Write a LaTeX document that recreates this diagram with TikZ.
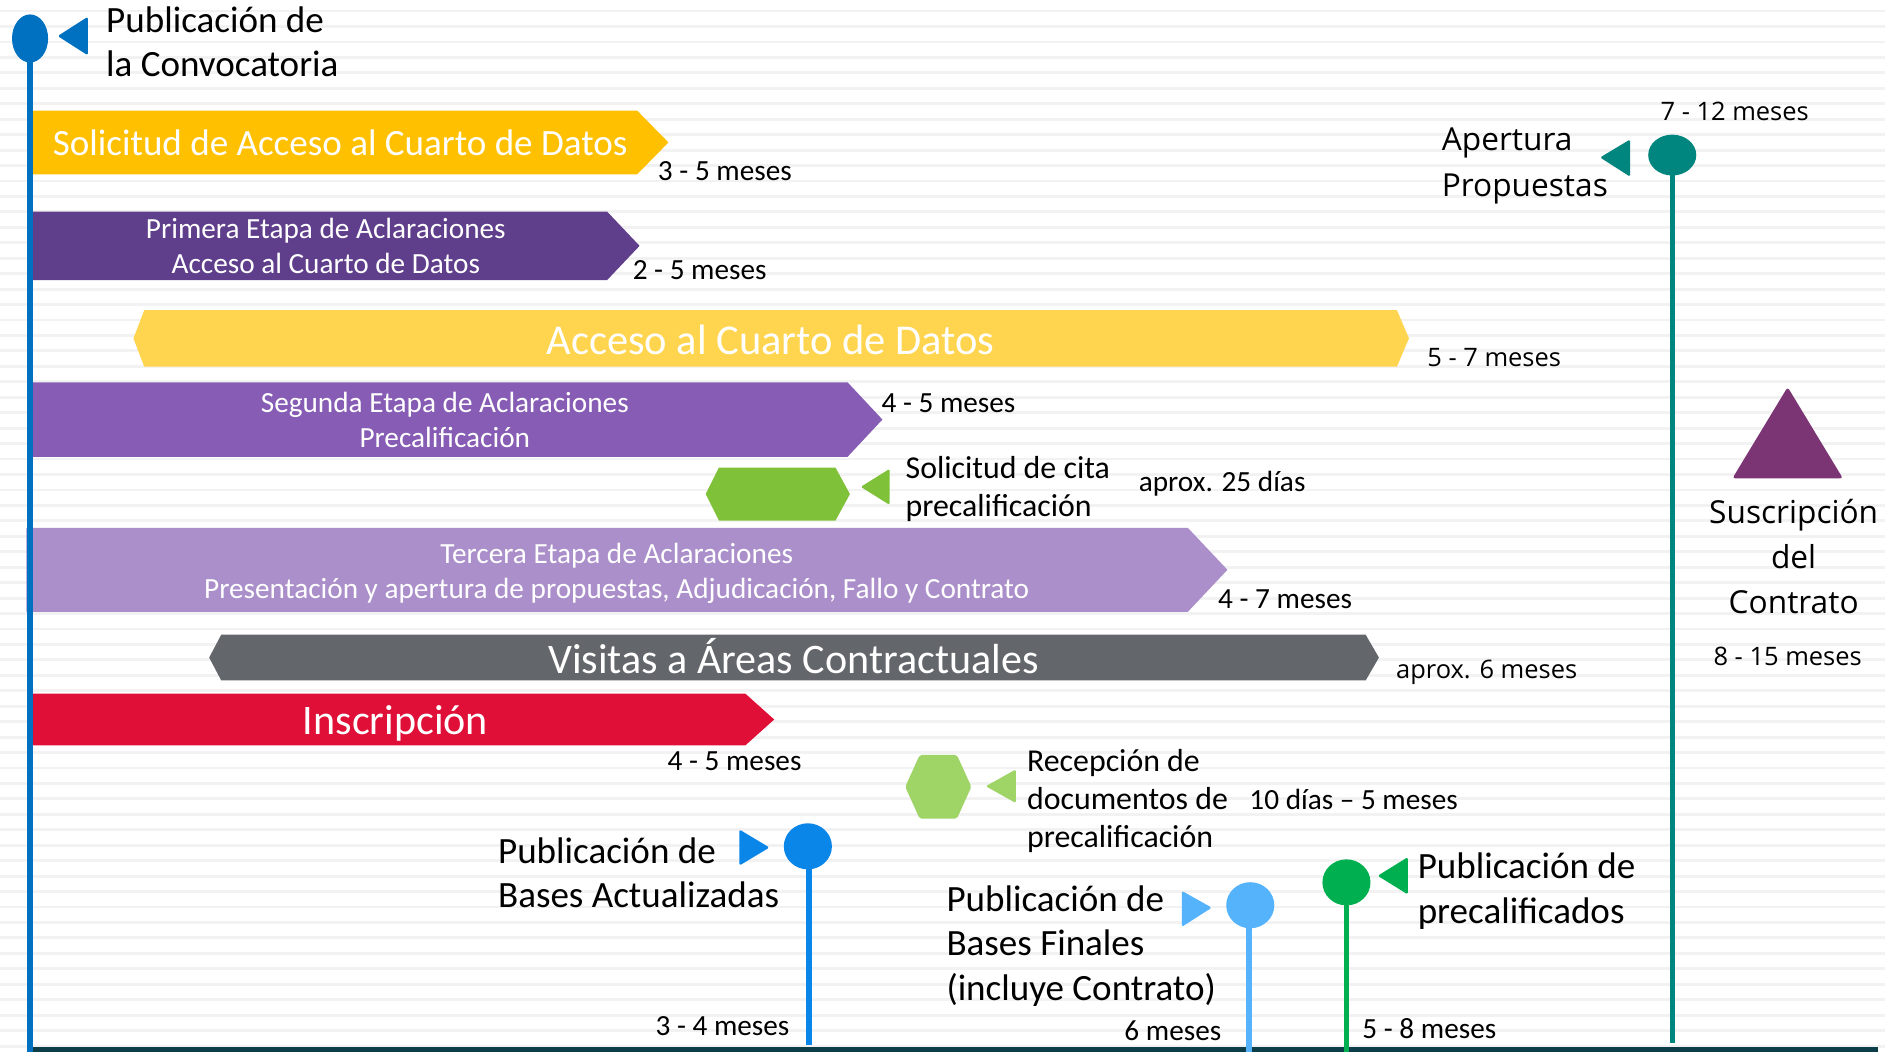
\documentclass[tikz,border=0pt]{standalone}
\usepackage{fontspec}
\setmainfont{Carlito}
\newfontfamily\osans{Open Sans}
\usetikzlibrary{shapes.geometric}
\definecolor{cBlue}{HTML}{0070C0}
\definecolor{cBarA}{HTML}{FFC000}
\definecolor{cBarB}{HTML}{5F3E8B}
\definecolor{cBarC}{HTML}{FFD550}
\definecolor{cBarD}{HTML}{865CB4}
\definecolor{cHexA}{HTML}{80C13A}
\definecolor{cBarE}{HTML}{AB8FCA}
\definecolor{cBarF}{HTML}{63666A}
\definecolor{cBarG}{HTML}{E00F37}
\definecolor{cHexB}{HTML}{9FD467}
\definecolor{cPinA}{HTML}{0A85E8}
\definecolor{cPinB}{HTML}{55B3FC}
\definecolor{cPinC}{HTML}{00B050}
\definecolor{cTeal}{HTML}{00867F}
\definecolor{cTri}{HTML}{7B3575}
\definecolor{cAxis}{HTML}{0E3D4A}
\definecolor{cStripe}{HTML}{F2F2F2}
\newcommand\fsz[2]{\fontsize{#1pt}{#2pt}\selectfont}
\newcommand\sst{\rule[-0.25em]{0pt}{1em}}
\tikzset{
  txt/.style={inner sep=0pt, yshift=-1.9pt, execute at begin node=\sst, execute at end node=\sst},
  big/.style={txt, font=\fsz{18.5}{22.2}, align=left, anchor=west},
  mid/.style={txt, font=\fsz{15.9}{19.0}, align=left, anchor=west},
  dur/.style={txt, font=\fsz{14.6}{17.5}, anchor=west},
  odur/.style={txt, font=\osans\fsz{12.7}{15}, anchor=west},
  olbl/.style={txt, font=\osans\fsz{15.8}{22.5}},
  bartxt/.style={txt, text=white, align=center},
  pin/.style={ellipse, inner sep=0pt, minimum width=24pt},
  stick/.style={line width=2.6pt},
  marker/.style={rounded corners=0.8pt},
}
\begin{document}
\begin{tikzpicture}[x=0.6pt, y=-0.6pt]
\useasboundingbox (0,0) rectangle (1568,875);
\fill[white] (0,0) rectangle (1568,875);
\foreach \i in {0,...,67} \fill[cStripe] (0,{8+12.85*\i}) rectangle (1568,{10.4+12.85*\i});

% bar A
\fill[cBarA] (25,92) -- (530,92) -- (556,118.5) -- (530,145) -- (25,145) -- cycle;
\node[bartxt, font=\fsz{18.5}{22}] (barA) at (283,118.5) {Solicitud de Acceso al Cuarto de Datos};
\node[dur] (durA) at (547,141) {3 - 5 meses};
% bar B
\fill[cBarB] (25,176) -- (505,176) -- (532,204.5) -- (505,233) -- (25,233) -- cycle;
\node[bartxt, font=\fsz{14.6}{17.4}] (barB) at (271,204.5) {Primera Etapa de Aclaraciones\\Acceso al Cuarto de Datos};
\node[dur] (durB) at (526,223) {2 - 5 meses};
% bar C
\fill[cBarC] (111,281.5) -- (120,258) -- (1162,258) -- (1172,281.5) -- (1162,305) -- (120,305) -- cycle;
\node[bartxt, font=\fsz{21.2}{25}] (barC) at (641,283) {Acceso al Cuarto de Datos};
\node[odur] (durC) at (1187,296) {5 - 7 meses};
% bar D
\fill[cBarD] (25,318) -- (705,318) -- (734,349) -- (705,380) -- (25,380) -- cycle;
\node[bartxt, font=\fsz{14.6}{17.7}] (barD) at (370,349) {Segunda Etapa de Aclaraciones\\Precalificación};
\node[dur] (durD) at (733,334) {4 - 5 meses};
% hex A
\fill[cHexA] (587,411) -- (598,389) -- (695,389) -- (707,411) -- (695,433) -- (598,433) -- cycle;
\fill[cHexA, marker] (716,405) -- (740,390) -- (740,420) -- cycle;
\node[mid] (citaTxt) at (753,405) {Solicitud de cita\\precalificación};
\node[dur] (durCita) at (947,400) {aprox. 25 días};
% bar E
\fill[cBarE] (22,439) -- (988,439) -- (1021,474) -- (988,509) -- (22,509) -- cycle;
\node[bartxt, font=\fsz{14.6}{17.4}] (barE) at (513,475) {Tercera Etapa de Aclaraciones\\Presentación y apertura de propuestas, Adjudicación, Fallo y Contrato};
\node[dur] (durE) at (1013,497) {4 - 7 meses};
% bar F
\fill[cBarF] (174,547) -- (184,528) -- (1136,528) -- (1147,547) -- (1136,566) -- (184,566) -- cycle;
\node[bartxt, font=\fsz{21}{25}] (barF) at (660,547) {Visitas a Áreas Contractuales};
\node[odur] (durF) at (1161,556) {aprox. 6 meses};
% bar G
\fill[cBarG] (25,577) -- (620,577) -- (644,598.5) -- (620,620) -- (25,620) -- cycle;
\node[bartxt, font=\fsz{21}{25}] (barG) at (329,599) {Inscripción};
\node[dur] (durG) at (555,632) {4 - 5 meses};
% hex B
\fill[cHexB, rounded corners=1pt] (753,654.5) -- (765,628) -- (796,628) -- (808,654.5) -- (796,681) -- (765,681) -- cycle;
\fill[cHexB, marker] (820,654) -- (845,640) -- (845,668) -- cycle;
\node[mid] (recTxt) at (854,664.5) {Recepción de\\documentos de\\precalificación};
\node[dur] (durRec) at (1039,664) {10 días – 5 meses};

% bottom axis
\coordinate (axL) at (27,873);
\coordinate (axR) at (1562,873);
\draw[cAxis, line width=2.5pt] (axL) -- (axR);

% left line and top pin
\coordinate (convTop) at (25,32);
\coordinate (leftEnd) at (25,875);
\draw[cBlue, line width=2.6pt] (convTop) -- (leftEnd);
\node[pin, fill=cBlue, minimum width=18pt, minimum height=24pt] (convPin) at (25,32) {};
\fill[cBlue, marker] (48,30) -- (73,14) -- (73,46) -- cycle;
\node[big] (convTxt) at (88,35.5) {Publicación de\\la Convocatoria};

% pin A
\coordinate (pinAtop) at (673,704);
\coordinate (pinAend) at (673,869);
\draw[stick, cPinA] (pinAtop) -- (pinAend);
\node[pin, fill=cPinA, minimum height=23pt] (pinA) at (672,704) {};
\fill[cPinA, marker] (640,705) -- (615,690) -- (615,720) -- cycle;
\node[big] (actTxt) at (414,726.5) {Publicación de\\Bases Actualizadas};
\node[dur] (durAct) at (545,852) {3 - 4 meses};

% pin B
\coordinate (pinBtop) at (1039,753);
\coordinate (pinBend) at (1039,875);
\draw[stick, cPinB] (pinBtop) -- (pinBend);
\node[pin, fill=cPinB, minimum height=23pt] (pinB) at (1040,753) {};
\fill[cPinB, marker] (1008,755) -- (983,741) -- (983,771) -- cycle;
\node[big] (finTxt) at (787,785) {Publicación de\\Bases Finales\\(incluye Contrato)};
\node[dur] (durFin) at (935,856) {6 meses};

% pin C
\coordinate (pinCtop) at (1120,734);
\coordinate (pinCend) at (1120,875);
\draw[stick, cPinC] (pinCtop) -- (pinCend);
\node[pin, fill=cPinC, minimum height=23pt] (pinC) at (1120,734) {};
\fill[cPinC, marker] (1146,728.5) -- (1171,713) -- (1171,744) -- cycle;
\node[big] (preTxt) at (1179,739.5) {Publicación de\\precalificados};
\node[dur] (durPre) at (1133,855) {5 - 8 meses};

% teal pin
\coordinate (pinDtop) at (1391,129);
\coordinate (pinDend) at (1391,868);
\draw[stick, cTeal] (pinDtop) -- (pinDend);
\node[pin, fill=cTeal, minimum height=20.4pt] (pinD) at (1391,129) {};
\fill[cTeal, marker] (1331,131) -- (1356,116) -- (1356,147) -- cycle;
\node[olbl, align=left, anchor=west] (aperTxt) at (1199,135) {Apertura\\Propuestas};
\node[odur] (durAper) at (1381,92) {7 - 12 meses};

% contract triangle
\fill[cTri, rounded corners=1.5pt] (1487,322) -- (1533,398) -- (1441,398) -- cycle;
\node[olbl, align=center] (suscTxt) at (1492,463) {Suscripción\\del\\Contrato};
\node[odur, anchor=center] (durSusc) at (1487,545) {8 - 15 meses};
\end{tikzpicture}
\end{document}
